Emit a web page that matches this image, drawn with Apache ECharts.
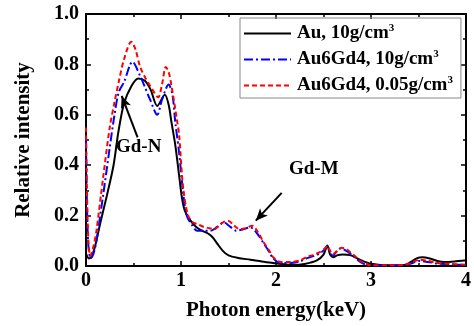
<!DOCTYPE html>
<html>
<head>
<meta charset="utf-8">
<script src="https://cdn.jsdelivr.net/npm/echarts@6/dist/echarts.min.js"></script>
<style>
  html, body { margin: 0; padding: 0; background: #fff; }
  #chart { width: 474px; height: 326px; }
</style>
</head>
<body>
<div id="chart"></div>
<script>
// Au, 10g/cm3
const auEnergy = [0, 0.03, 0.06, 0.09, 0.15, 0.22, 0.29, 0.34, 0.40, 0.48, 0.55, 0.62, 0.68, 0.75, 0.83, 0.87, 0.90, 0.94, 0.98, 1.01, 1.04, 1.10, 1.16, 1.22, 1.28, 1.33, 1.38, 1.44, 1.50, 1.60, 1.73, 1.85, 1.97, 2.10, 2.18, 2.30, 2.43, 2.50, 2.54, 2.57, 2.60, 2.65, 2.70, 2.79, 2.90, 3.0, 3.2, 3.35, 3.42, 3.48, 3.54, 3.62, 3.70, 3.77, 3.88, 3.98, 4.0];
const auIntensity = [0.05, 0.03, 0.04, 0.07, 0.17, 0.28, 0.40, 0.53, 0.645, 0.715, 0.744, 0.735, 0.70, 0.635, 0.68, 0.64, 0.57, 0.48, 0.36, 0.27, 0.22, 0.18, 0.155, 0.14, 0.13, 0.115, 0.09, 0.06, 0.042, 0.032, 0.025, 0.018, 0.012, 0.006, 0.004, 0.008, 0.022, 0.045, 0.081, 0.045, 0.035, 0.043, 0.046, 0.042, 0.022, 0.009, 0.003, 0.004, 0.016, 0.03, 0.035, 0.03, 0.02, 0.016, 0.018, 0.022, 0.022];

// Au6Gd4, 10g/cm3
const gd10Energy = [0, 0.01, 0.025, 0.05, 0.08, 0.11, 0.18, 0.25, 0.30, 0.345, 0.40, 0.49, 0.57, 0.62, 0.675, 0.75, 0.80, 0.87, 0.91, 0.94, 0.98, 1.02, 1.06, 1.12, 1.17, 1.24, 1.31, 1.38, 1.45, 1.52, 1.58, 1.65, 1.73, 1.80, 1.87, 1.93, 1.97, 2.05, 2.15, 2.25, 2.32, 2.40, 2.46, 2.51, 2.54, 2.57, 2.60, 2.64, 2.68, 2.73, 2.78, 2.83, 2.88, 2.94, 3.0, 3.2, 3.35, 3.42, 3.51, 3.60, 3.70, 3.85, 4.0];
const gd10Intensity = [0.50, 0.25, 0.08, 0.03, 0.05, 0.10, 0.28, 0.47, 0.60, 0.69, 0.73, 0.81, 0.754, 0.71, 0.66, 0.60, 0.66, 0.72, 0.68, 0.57, 0.45, 0.30, 0.20, 0.16, 0.14, 0.14, 0.14, 0.155, 0.173, 0.155, 0.14, 0.145, 0.153, 0.13, 0.09, 0.055, 0.03, 0.012, 0.012, 0.018, 0.03, 0.04, 0.05, 0.065, 0.078, 0.055, 0.04, 0.06, 0.07, 0.062, 0.05, 0.035, 0.018, 0.006, 0.002, 0.002, 0.003, 0.01, 0.02, 0.016, 0.01, 0.006, 0.004];

// Au6Gd4, 0.05g/cm3
const gd005Energy = [0, 0.01, 0.025, 0.045, 0.08, 0.11, 0.18, 0.25, 0.30, 0.35, 0.40, 0.477, 0.52, 0.57, 0.62, 0.675, 0.76, 0.80, 0.84, 0.87, 0.90, 0.955, 0.98, 1.02, 1.07, 1.12, 1.18, 1.24, 1.30, 1.35, 1.40, 1.45, 1.50, 1.56, 1.62, 1.68, 1.75, 1.80, 1.87, 1.93, 1.97, 2.05, 2.15, 2.25, 2.32, 2.40, 2.46, 2.51, 2.54, 2.57, 2.60, 2.65, 2.69, 2.74, 2.78, 2.83, 2.88, 2.94, 3.0, 3.2, 3.35, 3.42, 3.51, 3.60, 3.70, 3.85, 4.0];
const gd005Intensity = [0.55, 0.30, 0.10, 0.04, 0.08, 0.14, 0.35, 0.55, 0.65, 0.74, 0.82, 0.89, 0.86, 0.79, 0.75, 0.715, 0.67, 0.72, 0.79, 0.77, 0.715, 0.585, 0.52, 0.32, 0.205, 0.175, 0.165, 0.155, 0.15, 0.146, 0.16, 0.175, 0.179, 0.16, 0.146, 0.15, 0.16, 0.14, 0.094, 0.06, 0.035, 0.016, 0.016, 0.022, 0.035, 0.045, 0.055, 0.068, 0.08, 0.06, 0.048, 0.06, 0.072, 0.068, 0.055, 0.04, 0.022, 0.01, 0.003, 0.003, 0.004, 0.012, 0.025, 0.02, 0.012, 0.008, 0.005];

const seriesNames = ['Au', 'Au6Gd4 10', 'Au6Gd4 0.05'];
const legendLabels = ['Au, 10g/cm', 'Au6Gd4, 10g/cm', 'Au6Gd4, 0.05g/cm'];

const font = 'Liberation Serif';
const zip = (xs, ys) => xs.map((x, i) => [x, ys[i]]);

const chart = echarts.init(document.getElementById('chart'));

const baseAxis = {
  axisLine: { show: true, onZero: false, lineStyle: { color: '#000', width: 2 } },
  axisTick: { show: true, inside: true, length: 5, lineStyle: { color: '#000', width: 1.5 } },
  minorTick: { show: true, splitNumber: 2, length: 3, lineStyle: { color: '#000', width: 1.5 } },
  splitLine: { show: false },
};

const options = {
  animation: false,
  backgroundColor: '#fff',
  grid: { left: 86, right: 5, top: 14, bottom: 57 },
  legend: {
    orient: 'vertical',
    left: 240,
    top: 18,
    padding: [5, 8, 3, 3],
    itemGap: 6,
    itemWidth: 47,
    itemHeight: 12,
    borderColor: '#888',
    borderWidth: 1,
    itemStyle: { opacity: 0 },
    data: seriesNames,
    formatter: (name) => legendLabels[seriesNames.indexOf(name)] + '{sup|3}',
    textStyle: {
      fontFamily: font,
      fontWeight: 'bold',
      fontSize: 19,
      color: '#000',
      padding: [0, 0, 0, 1],
      rich: {
        sup: { fontFamily: font, fontWeight: 'bold', fontSize: 11, verticalAlign: 'top', padding: [0, 0, 10, 0] },
      },
    },
  },
  xAxis: [
    {
      ...baseAxis,
      type: 'value',
      min: 0,
      max: 4,
      interval: 1,
      name: 'Photon energy(keV)',
      nameLocation: 'middle',
      nameGap: 34,
      nameTextStyle: { fontFamily: font, fontWeight: 'bold', fontSize: 21, color: '#000' },
      axisLabel: { fontFamily: font, fontWeight: 'bold', fontSize: 20, color: '#000', margin: 5 },
    },
    {
      ...baseAxis,
      type: 'value',
      position: 'top',
      min: 0,
      max: 4,
      interval: 1,
      axisLabel: { show: false },
    },
  ],
  yAxis: [
    {
      ...baseAxis,
      type: 'value',
      min: 0,
      max: 1,
      interval: 0.2,
      name: 'Relative intensity',
      nameLocation: 'middle',
      nameGap: 52,
      nameTextStyle: { fontFamily: font, fontWeight: 'bold', fontSize: 21, color: '#000' },
      axisLabel: {
        fontFamily: font, fontWeight: 'bold', fontSize: 20, color: '#000', margin: 7,
        formatter: (v) => v.toFixed(1),
      },
    },
    {
      ...baseAxis,
      type: 'value',
      position: 'right',
      min: 0,
      max: 1,
      interval: 0.2,
      axisLabel: { show: false },
    },
  ],
  series: [
    {
      name: seriesNames[0],
      type: 'line',
      data: zip(auEnergy, auIntensity),
      smooth: 0.3,
      showSymbol: false,
      symbol: 'none',
      lineStyle: { color: '#000', width: 2 },
      itemStyle: { color: '#000' },
      markLine: {
        silent: true,
        symbol: ['none', 'arrow'],
        symbolSize: [8, 12],
        label: { show: false },
        lineStyle: { color: '#000', width: 2, type: 'solid' },
        itemStyle: { color: '#000' },
        data: [
          [{ coord: [0.543, 0.51] }, { coord: [0.376, 0.675] }],
          [{ coord: [2.06, 0.29] }, { coord: [1.787, 0.18] }],
        ],
      },
    },
    {
      name: seriesNames[1],
      type: 'line',
      data: zip(gd10Energy, gd10Intensity),
      smooth: 0.3,
      showSymbol: false,
      symbol: 'none',
      lineStyle: { color: '#0000ff', width: 2, type: [9, 3, 2, 3] },
      itemStyle: { color: '#0000ff' },
    },
    {
      name: seriesNames[2],
      type: 'line',
      data: zip(gd005Energy, gd005Intensity),
      smooth: 0.3,
      showSymbol: false,
      symbol: 'none',
      lineStyle: { color: '#ff0000', width: 2, type: [5, 3] },
      itemStyle: { color: '#ff0000' },
    },
  ],
  graphic: [
    {
      type: 'text', left: 116, top: 138,
      style: { text: 'Gd-N', font: 'bold 19px "Liberation Serif"', fill: '#000' },
    },
    {
      type: 'text', left: 289, top: 160,
      style: { text: 'Gd-M', font: 'bold 19px "Liberation Serif"', fill: '#000' },
    },
  ],
};

chart.setOption(options);
</script>
</body>
</html>
